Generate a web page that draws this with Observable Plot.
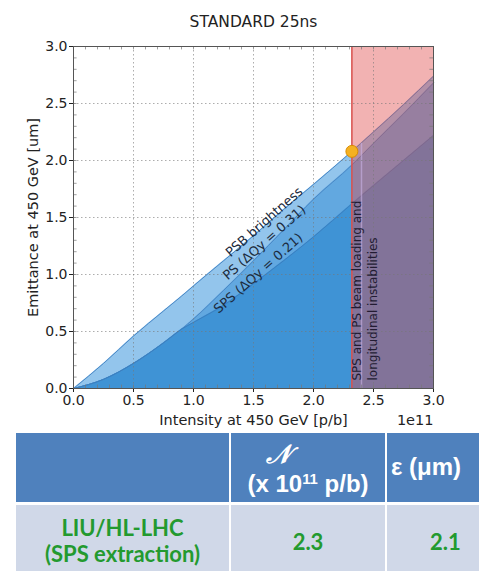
<!DOCTYPE html>
<html>
<head>
<meta charset="utf-8">
<script src="https://cdn.jsdelivr.net/npm/d3@7"></script>
<script src="https://cdn.jsdelivr.net/npm/@observablehq/plot@0.6"></script>
<style>
  html, body { margin: 0; padding: 0; background: #fff; width: 479px; height: 571px; overflow: hidden; position: relative; }
  #chart { position: absolute; left: 0; top: 0; }
  .cell { position: absolute; overflow: hidden; }
  .hdr { background: #4f81bd; color: #fff; font-family: "Liberation Sans", Arial, sans-serif; font-weight: bold; }
  .body { background: #d0d8e8; color: #239a2f; font-family: Lato, "Open Sans", sans-serif; font-weight: bold; }
  .line { position: absolute; left: 0; right: 0; text-align: center; white-space: nowrap; }
  sup { font-size: 0.62em; vertical-align: 0.55em; line-height: 0; }
</style>
</head>
<body>
<div id="chart"></div>
<div id="table"></div>
<script>
// ---- chart data (intensity in units of 1e11 p/b, emittance in um) ----
const intensity = [0, 0.25, 0.5, 0.75, 0.9, 1.0, 1.25, 1.5, 1.75, 2.0, 2.32, 2.5, 2.75, 3.0];
const psbBrightness = [0, 0.22, 0.46, 0.68, 0.81, 0.90, 1.12, 1.34, 1.57, 1.79, 2.08, 2.25, 2.49, 2.74];
const psLimit = [0, 0.08, 0.22, 0.40, 0.52, 0.61, 0.86, 1.12, 1.39, 1.66, 1.96, 2.15, 2.41, 2.68];
const spsLimit = [0, 0.08, 0.22, 0.40, 0.52, 0.58, 0.73, 0.92, 1.12, 1.33, 1.62, 1.78, 2.00, 2.22];

const limitIntensity = 2.32;     // SPS/PS beam loading limit
const targetIntensity = 2.32;    // LIU/HL-LHC point
const targetEmittance = 2.08;

const curveLabels = ["PSB brightness", "PS (\u0394Qy = 0.31)", "SPS (\u0394Qy = 0.21)"];
const curveLabelX = [1.59, 1.59, 1.54];
const curveLabelY = [1.46, 1.28, 1.01];
const limitLabels = ["SPS and PS beam loading and", "longitudinal instabilities"];
const limitLabelX = [2.365, 2.5];
const limitLabelY = [0.07, 0.07];

const gridValues = [0.5, 1.0, 1.5, 2.0, 2.5];
const minorValues = d3.range(1, 30).map(i => i / 10);

const titleText = "STANDARD 25ns";
const xLabel = "Intensity at 450 GeV [p/b]";
const yLabel = "Emittance at 450 GeV [um]";
const offsetText = "1e11";

// ---- table data ----
const tableSymbol = "\uD835\uDCA9";
const tableColN = ["(x 10", "11", " p/b)"];
const tableColE = "\u03B5 (\u03BCm)";
const tableRowLabel = ["LIU/HL-LHC", "(SPS extraction)"];
const tableRowValues = ["2.3", "2.1"];

// build rows
const rows = intensity.map((x, i) => ({x, psb: psbBrightness[i], ps: psLimit[i], sps: spsLimit[i]}));
const labelRows = curveLabels.map((t, i) => ({t, x: curveLabelX[i], y: curveLabelY[i]}));
const limitRows = limitLabels.map((t, i) => ({t, x: limitLabelX[i], y: limitLabelY[i]}));
const curve = "monotone-x";

const plot = Plot.plot({
  width: 479,
  height: 430,
  marginLeft: 73,
  marginRight: 46,
  marginTop: 46,
  marginBottom: 42,
  style: {fontFamily: "'DejaVu Sans', sans-serif", fontSize: "14px", color: "#222", background: "transparent"},
  x: {domain: [0, 3], ticks: 6, tickFormat: d3.format(".1f"), tickSize: 4, tickPadding: 3, label: null},
  y: {domain: [0, 3], ticks: 6, tickFormat: d3.format(".1f"), tickSize: 4, tickPadding: 2, label: null},
  marks: [
    Plot.areaY(rows, {x: "x", y: "psb", fill: "#93c5ec", curve}),
    Plot.areaY(rows, {x: "x", y: "ps", fill: "#62a8e0", curve}),
    Plot.areaY(rows, {x: "x", y: "sps", fill: "#3f93d5", curve}),
    Plot.lineY(rows, {x: "x", y: "psb", stroke: "#4a88c6", strokeWidth: 1, curve}),
    Plot.lineY(rows, {x: "x", y: "ps", stroke: "#4a88c6", strokeWidth: 1, curve}),
    Plot.lineY(rows, {x: "x", y: "sps", stroke: "#3a7fc0", strokeWidth: 1, curve}),
    Plot.rect([{x1: limitIntensity, x2: 3, y1: 0, y2: 3}], {x1: "x1", x2: "x2", y1: "y1", y2: "y2", fill: "#e04848", fillOpacity: 0.42}),
    Plot.ruleX([2.4], {y1: 0, y2: 2.15, stroke: "#c9b3e6", strokeOpacity: 0.6, strokeWidth: 1.5}),
    Plot.ruleX(gridValues, {stroke: "#777", strokeOpacity: 0.6, strokeDasharray: "1.5,2.5"}),
    Plot.ruleY(gridValues, {stroke: "#777", strokeOpacity: 0.6, strokeDasharray: "1.5,2.5"}),
    Plot.ruleY(minorValues, {x1: 0, x2: 0.03, stroke: "#777", strokeOpacity: 0.7}),
    Plot.ruleY(minorValues, {x1: 2.97, x2: 3, stroke: "#777", strokeOpacity: 0.7}),
    Plot.ruleX(minorValues, {y1: 0, y2: 0.03, stroke: "#777", strokeOpacity: 0.7}),
    Plot.ruleX(minorValues, {y1: 2.97, y2: 3, stroke: "#777", strokeOpacity: 0.7}),
    Plot.ruleX([limitIntensity], {stroke: "#d9534f", strokeWidth: 1.5}),
    Plot.frame({stroke: "#555", strokeWidth: 1}),
    Plot.text(labelRows, {x: "x", y: "y", text: "t", rotate: -41.5, fontSize: 13, fill: "#1c2c40"}),
    Plot.text(limitRows, {x: "x", y: "y", text: "t", rotate: -90, textAnchor: "start", lineAnchor: "middle", fontSize: 12, fill: "#231c33"}),
    Plot.dot([{x: targetIntensity, y: targetEmittance}], {x: "x", y: "y", r: 6, fill: "#f4b122", stroke: "#d98c00", strokeWidth: 1}),
    Plot.text([titleText], {frameAnchor: "top", textAnchor: "middle", lineAnchor: "middle", dy: -24, fontSize: 15.5, fill: "#222"}),
    Plot.text([xLabel], {frameAnchor: "bottom", textAnchor: "middle", lineAnchor: "middle", dy: 32, fontSize: 14.5, fill: "#222"}),
    Plot.text([offsetText], {frameAnchor: "bottom-right", textAnchor: "end", lineAnchor: "middle", dy: 32, fontSize: 14.5, fill: "#222"}),
    Plot.text([yLabel], {frameAnchor: "left", textAnchor: "middle", lineAnchor: "middle", dx: -40, rotate: -90, fontSize: 14.5, fill: "#222"})
  ]
});
document.getElementById("chart").appendChild(plot);

// ---- table ----
const t = document.getElementById("table");
function cell(cls, left, top, w, h, html) {
  const d = document.createElement("div");
  d.className = "cell " + cls;
  Object.assign(d.style, {left: left + "px", top: top + "px", width: w + "px", height: h + "px"});
  d.innerHTML = html;
  t.appendChild(d);
  return d;
}
const cols = [[16, 213], [231, 154], [387, 120]];
cell("hdr", cols[0][0], 433, cols[0][1], 69, "");
cell("hdr", cols[1][0], 433, cols[1][1], 69,
  `<div class="line" style="top:8px;font-size:26px;line-height:26px;font-family:'DejaVu Serif',serif;font-style:italic;padding-right:60px;">${tableSymbol}</div>` +
  `<div class="line" style="top:38px;font-size:24px;line-height:26px;">${tableColN[0]}<sup>${tableColN[1]}</sup>${tableColN[2]}</div>`);
cell("hdr", cols[2][0], 433, cols[2][1], 69,
  `<div class="line" style="top:21px;font-size:24px;line-height:26px;text-align:left;left:4px;">${tableColE}</div>`);
cell("body", cols[0][0], 505, cols[0][1], 70,
  `<div class="line" style="top:10px;font-size:22px;line-height:26px;">${tableRowLabel[0]}</div>` +
  `<div class="line" style="top:36px;font-size:22px;line-height:26px;">${tableRowLabel[1]}</div>`);
cell("body", cols[1][0], 505, cols[1][1], 70,
  `<div class="line" style="top:24px;font-size:22px;line-height:26px;">${tableRowValues[0]}</div>`);
cell("body", cols[2][0], 505, cols[2][1], 70,
  `<div class="line" style="top:24px;font-size:22px;line-height:26px;text-align:left;left:43px;">${tableRowValues[1]}</div>`);
</script>
</body>
</html>
